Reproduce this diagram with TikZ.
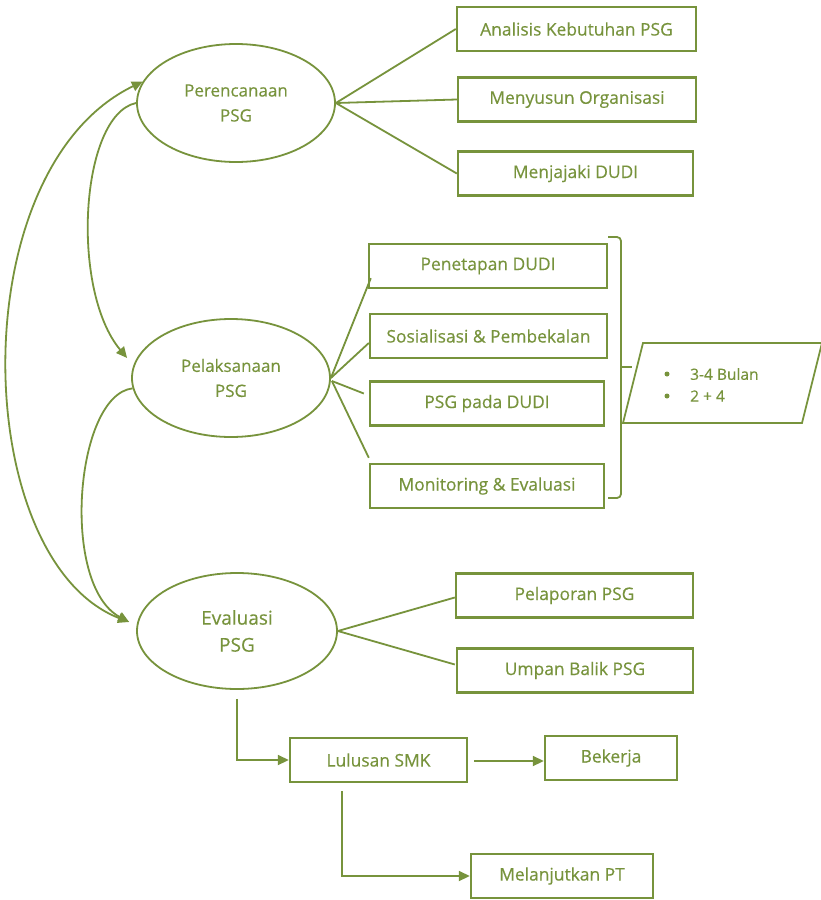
\documentclass[tikz,border=0pt]{standalone}
\usepackage{fontspec}
\setmainfont{Open Sans}[FakeBold=0.35]
\usetikzlibrary{shapes.geometric,arrows.meta,calc}
\definecolor{olive}{HTML}{77933C}
\begin{document}
\begin{tikzpicture}[x=1pt,y=-1pt,
  stage/.style={ellipse,draw=olive,line width=1.8pt,inner sep=0pt,
    minimum width=198pt,minimum height=118pt,text=olive,align=center,
    font=\fontsize{17}{25}\selectfont},
  task/.style={rectangle,draw=olive,line width=2.4pt,inner sep=0pt,
    text=olive,font=\fontsize{17.4}{20}\selectfont,minimum height=44pt},
  link/.style={draw=olive,line width=1.8pt},
  head/.tip={Triangle[length=11pt,width=10pt]},
  tip/.style={-head},
  note/.style={text=olive,font=\fontsize{15.5}{18}\selectfont,inner sep=0pt,anchor=west},
  dot/.style={circle,fill=olive,inner sep=0pt,minimum size=5pt}]

\fill[white] (0,0) rectangle (820,900);
\useasboundingbox (0,0) rectangle (820,900);

% three stages
\node[stage] (per) at (236,103) {Perencanaan\\PSG};
\node[stage] (pel) at (231,378) {Pelaksanaan\\PSG};
\node[stage,font=\fontsize{19}{27}\selectfont,minimum width=200pt,minimum height=116pt] (eva) at (237,631) {Evaluasi\\PSG};

% planning tasks
\node[task,minimum width=239pt] (ana) at (576.5,29) {Analisis Kebutuhan PSG};
\node[task,minimum width=238pt] (mny) at (577,99.5) {Menyusun Organisasi};
\node[task,minimum width=235pt] (mnj) at (575.5,173.5) {Menjajaki DUDI};

% implementation tasks
\node[task,minimum width=238pt] (pen) at (488,266) {Penetapan DUDI};
\node[task,minimum width=237pt] (sos) at (488.5,336) {Sosialisasi \& Pembekalan};
\node[task,minimum width=234pt] (pda) at (487,403.5) {PSG pada DUDI};
\node[task,minimum width=234pt] (mon) at (487,486) {Monitoring \& Evaluasi};

% evaluation tasks
\node[task,minimum width=237pt] (pla) at (574.5,595.5) {Pelaporan PSG};
\node[task,minimum width=236pt] (ump) at (575,670.5) {Umpan Balik PSG};

% graduates
\node[task,minimum width=177pt] (lul) at (378.5,760) {Lulusan SMK};
\node[task,minimum width=132pt] (bek) at (611,758) {Bekerja};
\node[task,minimum width=182pt] (mel) at (562,876) {Melanjutkan PT};

% fan-out lines
\draw[link] (per.east) -- (ana.west);
\draw[link] (per.east) -- (mny.west);
\draw[link] (per.east) -- (mnj.west);

\draw[link] (pel.east) -- ($(pen.south west)+(3,-11)$);
\draw[link] (pel.east) -- ($(sos.west)+(0,7)$);
\draw[link] ($(pel.east)+(1,3)$) -- ($(pda.west)+(-5,-10)$);
\draw[link] ($(pel.east)+(1,3)$) -- ($(mon.north west)+(0,-5)$);

\draw[link] (eva.east) -- ($(pla.west)+(0,2)$);
\draw[link] (eva.east) -- ($(ump.west)+(-1,-6)$);

% cycle between the stages
\coordinate (pelin) at ($(pel.west)+(-4,-20)$);
\coordinate (evain) at ($(eva.west)+(-7,-9)$);
\draw[link,tip] (per.west) .. controls (80,115) and (70,290) .. (pelin);
\draw[link,tip] (pel.186) .. controls (75,395) and (60,585) .. (evain);
\draw[link,head-head]
  (evain) .. controls (-30,560) and (-40,170) .. (per.167);

% duration bracket and note
\draw[olive,line width=1.8pt,rounded corners=4pt] (608,237) -- (621,237) -- (621,498) -- (608,498);
\draw[olive,line width=1.8pt] (621,367) -- (632,367);
\draw[olive,line width=1.8pt] (643,343) -- (822,343) -- (802,423) -- (623,423) -- cycle;
\node[dot] (b1) at (667,374) {};
\node[note] (t1) at (690,374) {3-4 Bulan};
\node[dot] (b2) at (667,396) {};
\node[note] (t2) at (690,396) {2 + 4};

% outcome flow
\coordinate (evaout) at ($(eva.south)+(0,9)$);
\draw[link,tip] (evaout) |- (lul.west);
\draw[link,tip] ($(lul.east)+(6,1)$) -- ($(bek.west)+(0,3)$);
\coordinate (lulout) at ($(lul.south west)+(53,8)$);
\draw[link,tip] (lulout) |- (mel.west);
\end{tikzpicture}
\end{document}
